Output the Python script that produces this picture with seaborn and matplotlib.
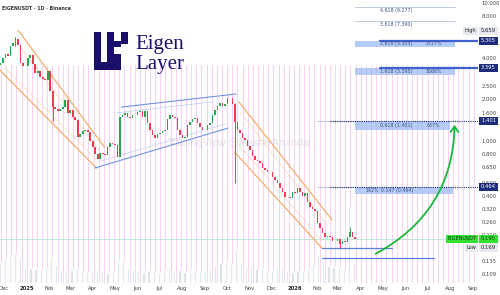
import numpy as np
import pandas as pd
import matplotlib
matplotlib.use("Agg")
import matplotlib.pyplot as plt
import matplotlib.dates as mdates
from matplotlib.patches import Rectangle
import seaborn as sns

sns.set_theme(style="white")
plt.rcParams['font.family'] = ['DejaVu Sans']

# ---------------- data ----------------
closes = [3.7, 4.0, 4.3, 4.1, 4.9, 5.1, 5.5, 5.0, 3.7, 3.5,
          3.5, 4.0, 4.2, 3.6, 3.1, 3.2, 2.9, 2.8, 2.77, 3.2,
          2.3, 1.75, 1.7, 1.65, 1.7, 1.76, 1.98, 1.6, 1.68, 1.5,
          1.42, 1.07, 1.12, 1.18, 1.2, 1.16, 1.0, 0.9, 0.8, 0.74,
          0.82, 0.8, 0.79, 0.9, 0.97, 0.95, 0.94, 0.77, 1.49, 1.55,
          1.6, 1.5, 1.46, 1.55, 1.54, 1.62, 1.64, 1.5, 1.64, 1.35,
          1.2, 1.1, 1.05, 1.12, 1.14, 1.18, 1.2, 1.45, 1.54, 1.5,
          1.46, 1.2, 1.1, 1.05, 1.07, 1.3, 1.37, 1.45, 1.46, 1.35,
          1.26, 1.2, 1.2, 1.3, 1.35, 1.55, 1.68, 1.8, 1.9, 1.8,
          1.85, 2.05, 2.05, 1.85, 1.37, 1.2, 1.14, 1.05, 1.02, 0.92,
          0.86, 0.78, 0.73, 0.72, 0.69, 0.64, 0.62, 0.6, 0.6, 0.55,
          0.52, 0.5, 0.46, 0.43, 0.39, 0.39, 0.385, 0.43, 0.42, 0.46,
          0.43, 0.4, 0.42, 0.36, 0.33, 0.32, 0.31, 0.255, 0.235, 0.215,
          0.2, 0.205, 0.2, 0.19, 0.19, 0.195, 0.18, 0.19, 0.185, 0.2,
          0.22, 0.2, 0.195]
first_open = 3.55
price_start = "2024-11-26"
price_end = "2026-03-24"

wick_idx = [6, 21, 94, 136, 140]
wick_low = [4.9, 1.40, 0.50, 0.169, 0.2]
wick_high = [5.659, 2.3, 1.9, 0.19, 0.24]

vol_weekly = [18, 22, 25, 28, 22, 15, 14, 13, 12, 14,
              24, 16, 12, 11, 12, 14, 11, 10, 10, 12,
              10, 9, 10, 22, 20, 14, 12, 11, 10, 12,
              11, 9, 13, 14, 11, 12, 10, 13, 12, 10,
              11, 13, 16, 18, 20, 17, 30, 18, 15, 14,
              13, 14, 12, 12, 14, 13, 11, 10, 12, 11,
              13, 16, 26, 20, 16, 15, 14, 13, 70, 18]
vol_start = "2024-11-25"

ytick_vals = [10, 8, 4, 2.5, 2, 1.6, 1, 0.8, 0.65, 0.5, 0.4, 0.32, 0.26, 0.21, 0.135, 0.109]

# trend lines: (start date, start price, end date, end price, color, alpha, lw)
trend_lines = [
    ("2024-12-20", 6.37, "2025-04-17", 0.90, "#f5a55a", 1.0, 0.8),
    ("2024-11-25", 3.27, "2025-04-06", 0.637, "#f5a55a", 1.0, 0.8),
    ("2024-12-14", 5.57, "2025-04-10", 0.86, "#f5c9a0", 0.7, 0.5),
    ("2024-12-02", 3.38, "2025-04-06", 0.728, "#f5c9a0", 0.7, 0.5),
    ("2025-05-10", 1.76, "2025-10-13", 2.19, "#6f93e8", 1.0, 0.8),
    ("2025-04-04", 0.637, "2025-10-02", 1.24, "#6f93e8", 1.0, 0.8),
    ("2025-05-04", 1.60, "2025-09-11", 1.92, "#a9c0f0", 0.8, 0.5),
    ("2025-04-10", 0.71, "2025-09-29", 1.33, "#a9c0f0", 0.8, 0.5),
    ("2025-10-17", 1.92, "2026-02-21", 0.268, "#f5a55a", 1.0, 0.8),
    ("2025-10-11", 0.832, "2026-02-07", 0.168, "#f5a55a", 1.0, 0.8),
    ("2025-10-19", 1.62, "2026-02-14", 0.246, "#f5c9a0", 0.7, 0.5),
    ("2025-10-14", 0.977, "2026-02-07", 0.19, "#f5c9a0", 0.7, 0.5),
    ("2026-02-07", 0.169, "2026-05-13", 0.169, "#5b7fe0", 1.0, 0.9),
    ("2026-02-07", 0.142, "2026-07-10", 0.142, "#5b7fe0", 1.0, 0.9),
]

# fib boxes: (start, end, top, bottom)
fib_boxes = [
    ("2026-03-24", "2026-08-07", 5.305, 4.80),
    ("2026-03-24", "2026-08-07", 3.395, 3.01),
    ("2026-03-24", "2026-07-31", 1.401, 1.20),
    ("2026-03-24", "2026-08-05", 0.464, 0.41),
]
fib_thin = [("2026-03-24", "2026-08-07", 9.277), ("2026-03-24", "2026-08-07", 7.390),
            ("2026-02-01", "2026-03-24", 1.401), ("2026-02-01", "2026-03-24", 0.464)]
fib_texts = [
    ("2026-05-20", 8.75, "4.618 (9.277)"),
    ("2026-05-20", 6.93, "3.618 (7.390)"),
    ("2026-05-20", 5.05, "2.618 (5.305)"),
    ("2026-07-10", 5.05, "2727%"),
    ("2026-05-20", 3.20, "1.618 (3.395)"),
    ("2026-07-10", 3.20, "1666%"),
    ("2026-05-20", 1.30, "0.618 (1.401)"),
    ("2026-07-09", 1.30, "637%"),
    ("2026-04-16", 0.436, "142%"),
    ("2026-05-20", 0.436, "0.147 (0.464)"),
]
solid_levels = [("2026-04-27", 5.305), ("2026-04-27", 3.395)]
dotted_levels = [("2026-02-18", 1.401), ("2026-02-18", 0.464)]

arrow_start = ("2026-04-18", 0.149)
arrow_end = ("2026-08-07", 1.37)

last_price = 0.195
high_price = 5.659
low_price = 0.169

# ---------------- figure ----------------
fig = plt.figure(figsize=(5.0, 2.95), dpi=100)
fig.patch.set_facecolor("white")
ax = fig.add_axes([0, 12 / 295, 478 / 500, 283 / 295])
axv = ax.twinx()
ax.set_zorder(axv.get_zorder() + 1)
ax.patch.set_visible(False)

xmin = pd.Timestamp("2024-11-25 13:00")
xmax = pd.Timestamp("2026-09-07 19:00")

# pink stripes and volume (background axis)
stripes = pd.date_range("2024-11-27", xmax, freq="7D")
for d in stripes:
    axv.axvline(mdates.date2num(d), ymin=0, ymax=0.77, color="#f6d0f2", lw=0.7, zorder=0)
vol_dates = pd.date_range(vol_start, periods=len(vol_weekly), freq="7D")
axv.bar(vol_dates, vol_weekly, width=3.0, color="#cfd9de", alpha=0.85, zorder=1)
axv.set_ylim(0, 260)
axv.set_yticks([])
for s in axv.spines.values():
    s.set_visible(False)

# candles
dates = pd.date_range(price_start, price_end, periods=len(closes))
opens = [first_open] + closes[:-1]
df = pd.DataFrame({"date": dates, "open": opens, "close": closes})
df["up"] = df["close"] >= df["open"]
df["bottom"] = df[["open", "close"]].min(axis=1)
df["height"] = (df["close"] - df["open"]).abs()
up_c, dn_c = "#22a84a", "#ef3a4f"
colors = [up_c if u else dn_c for u in df["up"]]
for i, lo, hi in zip(wick_idx, wick_low, wick_high):
    ax.vlines(df["date"][i], lo, hi, color=colors[i], lw=0.7, zorder=3)
ax.bar(df["date"], df["height"], bottom=df["bottom"], width=2.2, color=colors, zorder=4, linewidth=0)

# trend lines via seaborn
for d0, p0, d1, p1, c, a, lw in trend_lines:
    seg = pd.DataFrame({"x": pd.to_datetime([d0, d1]), "y": [p0, p1]})
    sns.lineplot(data=seg, x="x", y="y", ax=ax, color=c, alpha=a, lw=lw, zorder=2)

# current price line
ax.axhline(last_price, color="#b5e3d5", lw=0.6, zorder=1)

# fib boxes
for d0, d1, top, bot in fib_boxes:
    ax.fill_between(pd.to_datetime([d0, d1]), [bot, bot], [top, top], color="#9dbcf5", alpha=0.75, lw=0, zorder=2)
for d0, d1, p in fib_thin:
    ax.plot(pd.to_datetime([d0, d1]), [p, p], color="#b3c2dc", lw=0.6, zorder=2)
for d0, p in solid_levels:
    ax.plot(pd.to_datetime([d0, xmax]), [p, p], color="#3d62cf", lw=1.6, zorder=3)
for d0, p in dotted_levels:
    ax.plot(pd.to_datetime([d0, xmax]), [p, p], color="#1e2b7a", lw=0.8, ls=(0, (1, 1)), zorder=3)
for d, p, t in fib_texts:
    ax.text(pd.Timestamp(d), p, t, ha="center", va="center", fontsize=3.4, color="#3b4f86", zorder=5)

# green curved arrow
ax.annotate("", xy=(pd.Timestamp(arrow_end[0]), arrow_end[1]),
            xytext=(pd.Timestamp(arrow_start[0]), arrow_start[1]),
            arrowprops=dict(arrowstyle="->,head_length=0.5,head_width=0.35", color="#19b83a", lw=1.3,
                            connectionstyle="arc3,rad=0.3", mutation_scale=8), zorder=6)

# watermark
ax.text(0.498, 0.495, "TradingView @MasterAnanda", transform=ax.transAxes, ha="center", va="center",
        fontsize=7, color="#c9c9c9", alpha=0.55, zorder=1)

# axes setup
ax.set_yscale("log")
ax.set_ylim(0.0935, 10.51)
ax.set_xlim(xmin, xmax)
ax.minorticks_off()
ax.set_yticks(ytick_vals)
ax.set_yticklabels(["%.3f" % v for v in ytick_vals])
ax.yaxis.tick_right()
ax.tick_params(axis="y", length=0, pad=2.5, labelsize=3.8, labelcolor="#444444")
month_ticks = pd.date_range("2024-12-01", "2026-09-01", freq="MS")
month_labels = [str(d.year) if d.month == 1 else d.strftime("%b") for d in month_ticks]
ax.set_xticks(month_ticks)
ax.set_xticklabels(month_labels)
ax.tick_params(axis="x", length=0, pad=2.5, labelsize=3.8, labelcolor="#444444")
for lbl in ax.get_xticklabels():
    if lbl.get_text().isdigit():
        lbl.set_fontweight("bold")
        lbl.set_color("#222222")
ax.set_xlabel("")
ax.set_ylabel("")
for s in ax.spines.values():
    s.set_visible(False)
ax.grid(False)
axv.grid(False)
ax.axvline(xmax, color="#e0e3eb", lw=0.6)


def axis_box(price, text, bg, fg, dy=0.0):
    ax.annotate(text, xy=(1.0, price), xycoords=ax.get_yaxis_transform(),
                xytext=(2.2, dy), textcoords="offset points", ha="left", va="center",
                fontsize=3.8, color=fg, annotation_clip=False, zorder=10,
                bbox=dict(boxstyle="square,pad=0.3", fc=bg, ec="none"))


def side_box(price, text, bg, fg, dy=0.0):
    ax.annotate(text, xy=(1.0, price), xycoords=ax.get_yaxis_transform(),
                xytext=(-1.0, dy), textcoords="offset points", ha="right", va="center",
                fontsize=3.6, color=fg, annotation_clip=False, zorder=10,
                bbox=dict(boxstyle="square,pad=0.3", fc=bg, ec="none"))


for p in [5.305, 3.395, 1.401, 0.464]:
    axis_box(p, "%.3f" % p, "#1e2b7a", "white")
axis_box(last_price, "%.3f" % last_price, "#34e034", "#0b3b0b")
side_box(last_price, "EIGENUSDT", "#34e034", "#0b3b0b")
axis_box(high_price, "%.3f" % high_price, "#e6eaf0", "#222222", dy=4.5)
side_box(high_price, "High", "#e6eaf0", "#222222", dy=4.5)
axis_box(low_price, "%.3f" % low_price, "#e6eaf0", "#222222")
side_box(low_price, "Low", "#e6eaf0", "#222222")

# title
fig.text(0.004, 1 - 8 / 295, "EIGENUSDT · 1D · Binance", fontsize=3.4, fontweight="bold",
         color="#333333", va="center", ha="left")

# logo
navy = "#1a0e6b"


def logo_rect(x0, y0, x1, y1):
    fig.add_artist(Rectangle((x0 / 500, 1 - y1 / 295), (x1 - x0) / 500, (y1 - y0) / 295,
                             transform=fig.transFigure, fc=navy, ec="none"))


for r in [(94, 32, 101, 70), (107, 32, 114, 62), (114, 41, 121, 47), (121, 32, 128, 44),
          (101, 62, 121, 70), (114, 54, 121, 62)]:
    logo_rect(*r)
fig.text(135 / 500, 1 - 49 / 295, "Eigen", fontsize=15, family=["Liberation Serif"], color=navy,
         va="baseline", ha="left")
fig.text(135 / 500, 1 - 69 / 295, "Layer", fontsize=15, family=["Liberation Serif"], color=navy,
         va="baseline", ha="left")

fig.savefig("out.png", dpi=100, facecolor="white")
